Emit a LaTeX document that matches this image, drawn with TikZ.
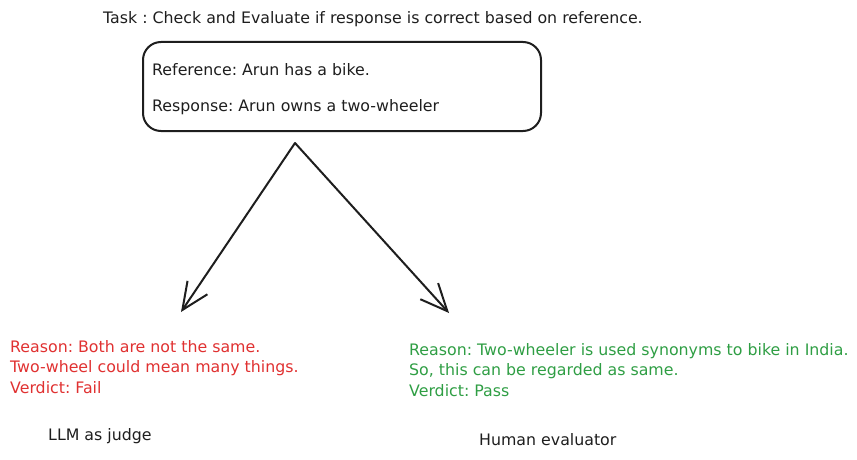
\documentclass[tikz,border=0pt]{standalone}
\usepackage{fontspec}
\setmainfont{DejaVu Sans}
\usepackage{xcolor}
\usetikzlibrary{arrows.meta}
\usetikzlibrary{positioning}

\definecolor{failred}{HTML}{E03131}
\definecolor{passgreen}{HTML}{2F9E44}
\definecolor{inkblack}{HTML}{1E1E1E}

\tikzset{
  sketch/.style={font=\fontsize{15.8}{20.5}\selectfont\frenchspacing, text=inkblack, inner sep=0pt},
  verdict/.style={sketch, align=left, anchor=north west},
  refbox/.style={draw=inkblack, line width=2pt, rounded corners=18pt,
    minimum width=398pt, minimum height=89pt, inner sep=0pt},
  judgearrow/.style={draw=inkblack, line width=2pt, line cap=round,
    -{Straight Barb[length=27pt,width=24pt,line width=2pt]}},
}

\begin{document}
\begin{tikzpicture}[x=1pt,y=-1pt]
\useasboundingbox (0,0) rectangle (857,460);

\node[sketch, anchor=west] (task) at (103,19)
  {Task : Check and Evaluate if response is correct based on reference.};

\node[refbox] (box) at (342,86.5) {};
\node[sketch, anchor=west] (reftext) at (152,70) {Reference: Arun has a bike.};
\node[sketch, anchor=west] (resptext) at (152,107) {Response: Arun owns a two-wheeler};

\coordinate (fork) at (295,143);
\coordinate (llmend) at (181,312);
\coordinate (humanend) at (449,313);

\draw[judgearrow] (fork) -- (llmend);
\draw[judgearrow] (fork) -- (humanend);

\node[verdict, text=failred] (llmverdict) at (10,340)
  {Reason: Both are not the same.\\
   Two-wheel could mean many things.\\
   Verdict: Fail};
\node[verdict, text=passgreen] (humanverdict) at (409,343)
  {Reason: Two-wheeler is used synonyms to bike in India.\\
   So, this can be regarded as same.\\
   Verdict: Pass};

\node[sketch, anchor=west] (llmlabel) at (48,436) {LLM as judge};
\node[sketch, anchor=west] (humanlabel) at (479,440) {Human evaluator};

\end{tikzpicture}
\end{document}
